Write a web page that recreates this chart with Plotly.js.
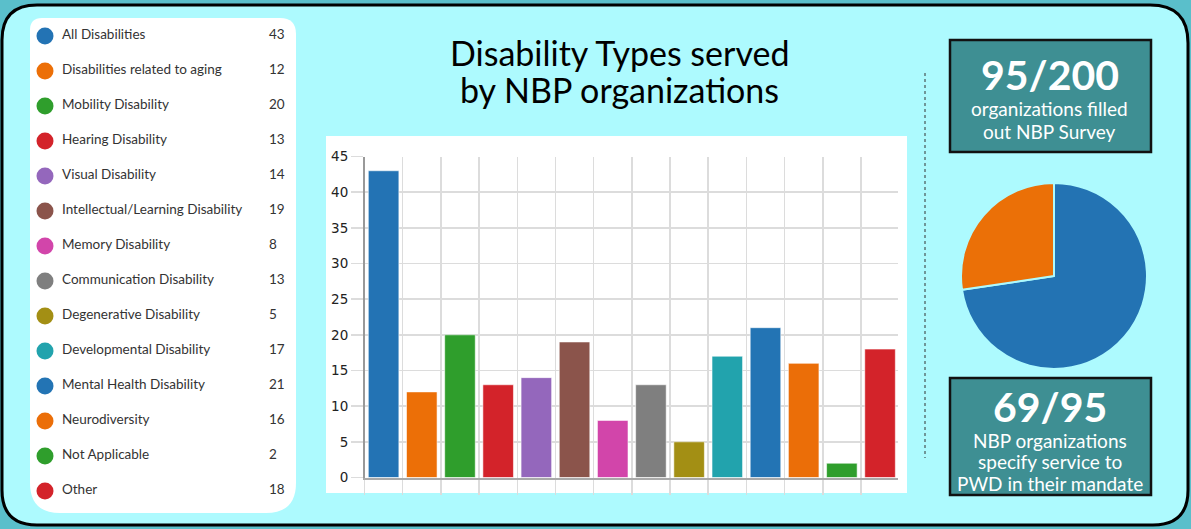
<!DOCTYPE html>
<html><head><meta charset="utf-8">
<script src="https://cdn.plot.ly/plotly-3.0.1.min.js"></script>
<style>html,body{margin:0;padding:0;background:#5abfcb;overflow:hidden;}</style>
</head><body><div id="chart" style="width:1191px;height:529px;"></div>
<script>
// ---- data ----
const categories = ["All Disabilities","Disabilities related to aging","Mobility Disability","Hearing Disability","Visual Disability","Intellectual/Learning Disability","Memory Disability","Communication Disability","Degenerative Disability","Developmental Disability","Mental Health Disability","Neurodiversity","Not Applicable","Other"];
const counts = [43,12,20,13,14,19,8,13,5,17,21,16,2,18];
const barColors = ["#2373b4","#ec6f07","#2f9e2c","#d3232a","#9467bc","#8b544b","#d245aa","#7f7f7f","#a38f14","#22a3ad","#2374b4","#eb6e08","#2f9e2c","#d3232a"];
const yTicks = [0,5,10,15,20,25,30,35,40,45];
const titleLines = ["Disability Types served","by NBP organizations"];
const surveyStat = "95/200";
const surveyLines = ["organizations filled","out NBP Survey"];
const mandateStat = "69/95";
const mandateLines = ["NBP organizations","specify service to","PWD in their mandate"];
const pieLabels = ["Specify service to PWD in mandate","Do not specify"];
const pieValues = [69, 26];
const pieColors = ["#2373b3","#eb7007"];

// ---- layout helpers ----
const W = 1191, H = 529;
const fx = px => px / W;
const fy = py => 1 - py / H;
function rr(x0,y0,x1,y1,tl,tr,br,bl){
  const p=(x,y)=>`${(x/W).toFixed(5)},${(1-y/H).toFixed(5)}`;
  return `M${p(x0+tl,y0)} L${p(x1-tr,y0)} Q${p(x1,y0)} ${p(x1,y0+tr)} L${p(x1,y1-br)} Q${p(x1,y1)} ${p(x1-br,y1)} L${p(x0+bl,y1)} Q${p(x0,y1)} ${p(x0,y1-bl)} L${p(x0,y0+tl)} Q${p(x0,y0)} ${p(x0+tl,y0)} Z`;
}
function rect(x0,y0,x1,y1,fill,line,lw){
  return {type:'rect',xref:'paper',yref:'paper',x0:fx(x0),x1:fx(x1),y0:fy(y1),y1:fy(y0),
    fillcolor:fill,line:{color:line||fill,width:lw||0},layer:'below'};
}
function txt(text,x,y,size,color,weight){
  return {xref:'paper',yref:'paper',x:fx(x),y:fy(y),text:text,showarrow:false,xanchor:'center',yanchor:'middle',
    font:{family:'Lato',size:size,color:color,weight:weight||'normal'}};
}

const legendY = categories.map((_,i)=>36+35*i);

const traces = [
  {type:'bar', x:categories, y:counts, xaxis:'x', yaxis:'y',
   marker:{color:barColors, line:{color:'rgba(255,255,255,0.55)', width:1}},
   hoverinfo:'x+y', showlegend:false},
  {type:'scatter', mode:'markers', x:categories.map(()=>45), y:legendY, xaxis:'x2', yaxis:'y2',
   marker:{color:barColors, size:17}, hoverinfo:'skip', showlegend:false},
  {type:'scatter', mode:'text', x:categories.map(()=>62), y:legendY, xaxis:'x2', yaxis:'y2',
   text:categories, textposition:'middle right', marker:{size:1},
   textfont:{family:'Lato', size:13.5, color:'#333'}, hoverinfo:'skip', showlegend:false},
  {type:'scatter', mode:'text', x:categories.map(()=>269), y:legendY, xaxis:'x2', yaxis:'y2',
   text:counts.map(String), textposition:'middle right', marker:{size:1},
   textfont:{family:'Lato', size:13.5, color:'#333'}, hoverinfo:'skip', showlegend:false},
  {type:'pie', labels:pieLabels, values:pieValues, sort:false, direction:'clockwise', rotation:0,
   marker:{colors:pieColors, line:{color:'#adfafe', width:2}}, textinfo:'none',
   domain:{x:[fx(961),fx(1147)], y:[fy(369),fy(183)]}, showlegend:false}
];

const annotations = [
  txt(titleLines[0], 619, 52, 34, '#000'),
  txt(titleLines[1], 619, 89, 34, '#000'),
  txt(surveyStat, 1050, 74, 41, '#fff', 'bold'),
  txt(mandateStat, 1050, 406, 41, '#fff', 'bold')
];
surveyLines.forEach((t,i)=>annotations.push(txt(t, 1049, 109+22*i, 19, '#fff')));
mandateLines.forEach((t,i)=>annotations.push(txt(t, 1050, 440+21.5*i, 19, '#fff')));

const layout = {
  width:W, height:H, margin:{l:0,r:0,t:0,b:0},
  paper_bgcolor:'#5abfcb', plot_bgcolor:'rgba(0,0,0,0)',
  showlegend:false,
  xaxis:{domain:[fx(364.5),fx(898)], range:[-0.5,13.47], type:'category', tickson:'boundaries',
    showgrid:true, gridcolor:'#dcdcdc', gridwidth:1.5, ticks:'outside', ticklen:15, tickcolor:'#dcdcdc', tickwidth:1.5,
    showticklabels:false, showline:true, linecolor:'#a9a9a9', linewidth:2, zeroline:false, automargin:false, fixedrange:true},
  yaxis:{domain:[fy(477.5),fy(156.5)], range:[0,45], tickvals:yTicks, ticks:'outside', ticklen:12,
    tickcolor:'#dcdcdc', tickwidth:1.5, showgrid:true, gridcolor:'#dcdcdc', gridwidth:1.5,
    showline:true, linecolor:'#999', linewidth:1.5, zeroline:false, automargin:false, fixedrange:true,
    tickfont:{family:'DejaVu Sans', size:13.5, color:'#222'}},
  xaxis2:{domain:[0,1], range:[0,W], anchor:'y2', visible:false, fixedrange:true},
  yaxis2:{domain:[0,1], range:[H,0], anchor:'x2', visible:false, fixedrange:true},
  shapes:[
    {type:'path', xref:'paper', yref:'paper', path:rr(2,5,1188,525,35,38,35,35), fillcolor:'#adfafe', line:{color:'#000',width:3}, layer:'below'},
    {type:'path', xref:'paper', yref:'paper', path:rr(30,18,296,513,12,16,30,30), fillcolor:'#ffffff', line:{width:0}, layer:'below'},
    rect(326,136,907,493,'#ffffff'),
    rect(950,40,1151,152,'#3e8f93','#111',2.5),
    rect(950,378,1151,495,'#3e8f93','#111',2.5),
    {type:'line', xref:'paper', yref:'paper', x0:fx(925), x1:fx(925), y0:fy(73), y1:fy(458), line:{color:'#333', width:1, dash:'dot'}, layer:'below'}
  ],
  annotations:annotations
};

Plotly.newPlot('chart', traces, layout, {staticPlot:true, displayModeBar:false});
</script></body></html>
